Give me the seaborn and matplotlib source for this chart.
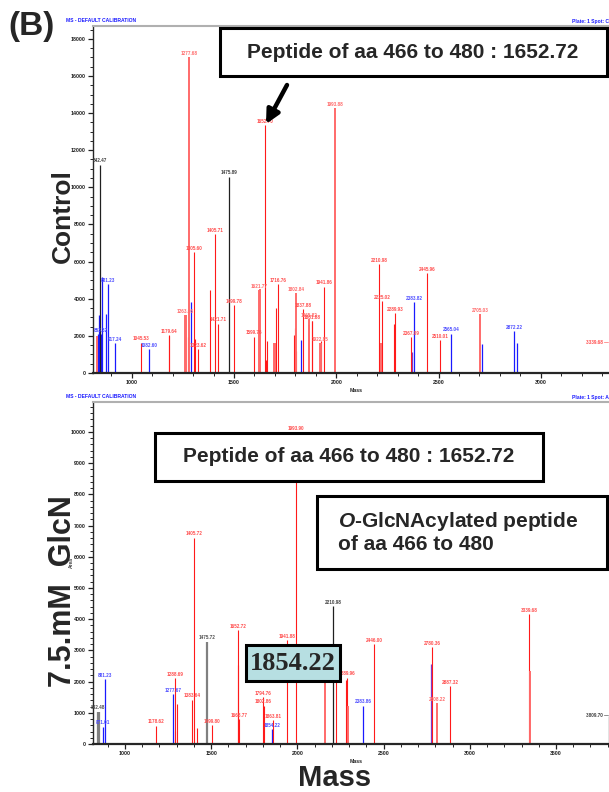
import numpy as np
import pandas as pd
import matplotlib
matplotlib.use('Agg')
import matplotlib.pyplot as plt
import matplotlib.patches as mpatches
import seaborn as sns

# ---- peak data (mass, intensity, peak class, label) ----
ctrl_mass = [832, 837, 842, 846, 849, 856, 876, 886, 920, 1047, 1086, 1181, 1183,
             1262, 1264, 1277, 1281, 1291, 1306, 1308, 1326, 1384, 1409, 1423, 1478,
             1501, 1599, 1623, 1625, 1653, 1656, 1661, 1697, 1699, 1707, 1717, 1795,
             1797, 1802, 1804, 1827, 1838, 1866, 1868, 1881, 1883, 1922, 1924, 1927,
             1941, 1994, 2210, 2218, 2225, 2284, 2289, 2366, 2368, 2381, 2445, 2508,
             2562, 2704, 2714, 2870, 2885, 3339.68]
ctrl_int = [1990, 2080, 3140, 11217, 2100, 5170, 3160, 4775, 1600, 1630, 1290, 2010, 2050,
            3120, 3150, 1920, 17000, 3840, 6500, 1850, 1290, 4450, 7480, 2650, 10571,
            3640, 1960, 4450, 4500, 13338, 700, 1700, 1600, 1600, 3480, 4775, 2050,
            2400, 4290, 1200, 1780, 3450, 2900, 2600, 2780, 2800, 1600, 1620, 1750,
            4650, 14255, 5870, 1640, 3880, 2620, 3210, 1920, 1150, 3800, 5370, 1780,
            2120, 3180, 1540, 2260, 1600, 1650]
ctrl_kind = ['s', 'b', 'b', 'k', 'b', 'b', 'b', 'b', 'b', 'r', 'b', 'r', 'r',
             's', 's', 'r', 's', 'b', 'r', 'r', 'r', 'r', 'r', 'r', 'k',
             'r', 'r', 's', 's', 'r', 'r', 'r', 's', 's', 'r', 'r', 'r',
             'r', 's', 'r', 'b', 'r', 's', 's', 'r', 'r', 's', 's', 'r',
             'r', 's', 'r', 's', 'r', 'r', 'r', 'r', 'p', 'b', 'r', 'r',
             'b', 's', 'b', 'b', 'b', 'r']
ctrl_label = [None, None, None, '842.47', '853.32', None, None, '881.23', '917.24', '1045.53', '1082.60', '1179.64', None,
              '1263.66', None, None, '1277.68', None, '1305.60', None, '1323.62', None, '1405.71', '1421.71', '1475.89',
              '1499.78', '1599.76', '1621.77', None, '1652.70', None, None, None, None, None, '1716.76', None,
              None, '1802.84', None, None, '1837.88', '1865.82', None, '1881.88', None, '1922.85', None, None,
              '1941.86', '1993.88', '2210.98', None, '2225.02', None, '2289.93', '2367.09', None, '2383.82', '2445.96', '2510.01',
              '2565.04', '2705.03', None, '2872.22', None, '3339.68']

glcn_mass = [845, 847, 871, 882, 1178, 1280, 1288, 1290, 1303, 1387, 1402, 1419, 1474,
             1503, 1654, 1656, 1663, 1799, 1804, 1854, 1860, 1942, 1994, 2162, 2208,
             2223, 2284, 2287, 2296, 2383, 2446, 2777, 2783, 2810, 2887, 3343, 3347, 3809.70]
glcn_int = [1040, 1040, 555, 2085, 590, 1590, 2100, 430, 1280, 1420, 6610, 500, 3280,
            610, 3650, 2530, 790, 1500, 1230, 470, 770, 3330, 9990, 2270, 4420,
            2270, 2050, 2130, 1230, 1230, 3200, 2550, 3100, 1300, 1860, 4170, 2330, 910]
glcn_kind = ['g', 'g', 'b', 'b', 'r', 'b', 'r', 'r', 'r', 'r', 'r', 'r', 'g',
             'r', 'r', 'r', 'r', 'r', 'r', 'b', 'r', 'r', 'r', 's', 'k',
             'r', 'r', 'r', 's', 'b', 'r', 'p', 'r', 's', 'r', 'r', 's', 'k']
glcn_label = ['842.48', None, '871.01', '881.23', '1178.62', '1277.67', '1288.69', None, None, '1383.64', '1405.72', None, '1475.72',
              '1499.80', '1652.72', None, '1668.77', '1794.76', '1802.86', '1854.22', '1863.81', '1941.88', '1993.90', None, '2210.98',
              None, None, '2289.96', None, '2383.86', '2446.00', None, '2780.36', '2808.22', '2887.32', '3339.68', None, '3809.70']

ctrl_xticks = [1000, 1500, 2000, 2500, 3000]
glcn_xticks = [1000, 1500, 2000, 2500, 3000, 3500]

line_col = {'r': '#ff1a1a', 's': '#ff6a6a', 'b': '#1a1aff', 'k': '#202020', 'g': '#808080', 'p': '#7a3cd0'}
text_col = {'r': '#ff4d4d', 's': '#ff6a6a', 'b': '#4d4dff', 'k': '#404040', 'g': '#505050', 'p': '#7a3cd0'}
line_w = {'r': 0.8, 's': 1.4, 'b': 0.9, 'k': 0.9, 'g': 1.6, 'p': 0.9}

sns.set_theme(style='ticks')
plt.rcParams['font.family'] = ['Liberation Sans', 'DejaVu Sans']
plt.rcParams['mathtext.fontset'] = 'custom'
plt.rcParams['mathtext.it'] = 'Liberation Sans:italic:bold'
plt.rcParams['mathtext.rm'] = 'Liberation Sans:bold'

W, H = 609, 792
fig = plt.figure(figsize=(W / 100, H / 100), dpi=100)


def fx(px):
    return px / W


def fy(py):
    return 1 - py / H


def spectrum(ax, df, xlim, ylim, xticks, ymajor, yminor):
    for k, sub in df.groupby('kind'):
        ax.vlines(sub['mass'], 0, sub['intensity'], color=line_col[k], lw=line_w[k])
    ax.set_xlim(*xlim)
    ax.set_ylim(*ylim)
    for _, row in df[df['label'].notna()].iterrows():
        if row['mass'] > xlim[1]:
            # peak is beyond the visible range, label sits at the edge
            ax.annotate(row['label'] + ' \u2014', xy=(xlim[1], row['intensity']), ha='right', va='center',
                        fontsize=3.3, fontweight='bold', color=text_col[row['kind']], annotation_clip=False)
        else:
            ax.text(row['mass'], row['intensity'] + ylim[1] * 0.004, row['label'], ha='center', va='bottom',
                    fontsize=3.3, fontweight='bold', color=text_col[row['kind']])
    ax.set_xticks(xticks)
    ax.set_xticks(np.arange(900, xlim[1], 100), minor=True)
    ax.set_yticks(np.arange(0, ylim[1], ymajor))
    ax.set_yticks(np.arange(0, ylim[1], yminor), minor=True)
    ax.tick_params(axis='both', which='major', labelsize=3.8, length=3.5, width=0.9, pad=1.5, colors='#202020')
    ax.tick_params(axis='both', which='minor', length=2, width=0.7)
    for lab in ax.get_xticklabels() + ax.get_yticklabels():
        lab.set_fontweight('bold')
    ax.spines['bottom'].set_linewidth(1.6)
    ax.spines['left'].set_linewidth(1.0)
    ax.spines['top'].set_color('#b0b0b0')
    ax.spines['top'].set_linewidth(1.5)
    ax.spines['right'].set_visible(False)
    ax.set_xlabel('Mass', fontsize=3.8, fontweight='bold', labelpad=2.5, x=0.51)
    ax.set_ylabel('')


ctrl = pd.DataFrame({'mass': ctrl_mass, 'intensity': ctrl_int, 'kind': ctrl_kind, 'label': ctrl_label})
glcn = pd.DataFrame({'mass': glcn_mass, 'intensity': glcn_int, 'kind': glcn_kind, 'label': glcn_label})

ax1 = fig.add_axes([fx(92.7), fy(373), fx(609 - 92.7), (373 - 26) / H])
spectrum(ax1, ctrl, (809.4, 3333), (0, 18690), ctrl_xticks, 2000, 500)

ax2 = fig.add_axes([fx(93), fy(744), fx(609 - 93), (744 - 402) / H])
spectrum(ax2, glcn, (814.4, 3807.5), (0, 10960), glcn_xticks, 1000, 200)

# headers from the instrument printout
hdr = dict(fontsize=3.6, fontweight='bold', color='#1a1aff')
fig.text(fx(66), fy(21), 'MS - DEFAULT CALIBRATION', ha='left', va='center', **hdr)
fig.text(fx(609), fy(21), 'Plate: 1 Spot: C', ha='right', va='center', **hdr)
fig.text(fx(66), fy(396), 'MS - DEFAULT CALIBRATION', ha='left', va='center', **hdr)
fig.text(fx(609), fy(397), 'Plate: 1 Spot: A', ha='right', va='center', **hdr)

# panel labels
fig.text(fx(8), fy(27), '(B)', fontsize=24, fontweight='bold', ha='left', va='center')
fig.text(fx(63), fy(216), 'Control', fontsize=19, fontweight='bold', rotation=90, ha='center', va='center')
fig.text(fx(63), fy(591), '7.5.mM  GlcN', fontsize=22, fontweight='bold', rotation=90, ha='center', va='center')
fig.text(fx(71), fy(562), 'Area', fontsize=3.5, fontweight='bold', rotation=90, ha='center', va='center', color='#404040')
fig.text(fx(335), fy(778), 'Mass', fontsize=21, fontweight='bold', ha='center', va='center')


def box(x0, y0, x1, y1, fc='white', lw=2.2):
    fig.add_artist(mpatches.Rectangle((fx(x0), fy(y1)), fx(x1 - x0), (y1 - y0) / H,
                                      transform=fig.transFigure, fc=fc, ec='black', lw=lw, zorder=5))


def arrow(x0, y0, x1, y1, lw=3.2, ms=20):
    ax1.annotate('', xy=(fx(x1), fy(y1)), xytext=(fx(x0), fy(y0)), xycoords='figure fraction',
                 textcoords='figure fraction', annotation_clip=False, zorder=6,
                 arrowprops=dict(arrowstyle='-|>', lw=lw, color='black', mutation_scale=ms,
                                 shrinkA=0, shrinkB=0))


pep = 'Peptide of aa 466 to 480 : 1652.72'
box(220, 28, 607, 76)
fig.text(fx(413), fy(52), pep, fontsize=15, fontweight='bold', ha='center', va='center', zorder=6)
arrow(287, 85, 266, 124)

box(155, 433, 543, 481)
fig.text(fx(349), fy(457), pep, fontsize=15, fontweight='bold', ha='center', va='center', zorder=6)
arrow(238, 492, 238, 602, lw=3.4, ms=24)

box(317, 496, 607, 569)
fig.text(fx(338), fy(532), '$\\mathit{O}$-GlcNAcylated peptide\nof aa 466 to 480', fontsize=15,
         fontweight='bold', ha='left', va='center', linespacing=1.15, zorder=6)
arrow(367, 574, 311, 637)

box(246, 645, 340, 681, fc='#b7dfe2', lw=2.2)
fig.text(fx(293), fy(663), '1854.22', fontsize=19, fontweight='bold', family='Liberation Serif',
         ha='center', va='center', zorder=6)
arrow(284, 678, 271, 722)

fig.savefig('out.png', dpi=100)
